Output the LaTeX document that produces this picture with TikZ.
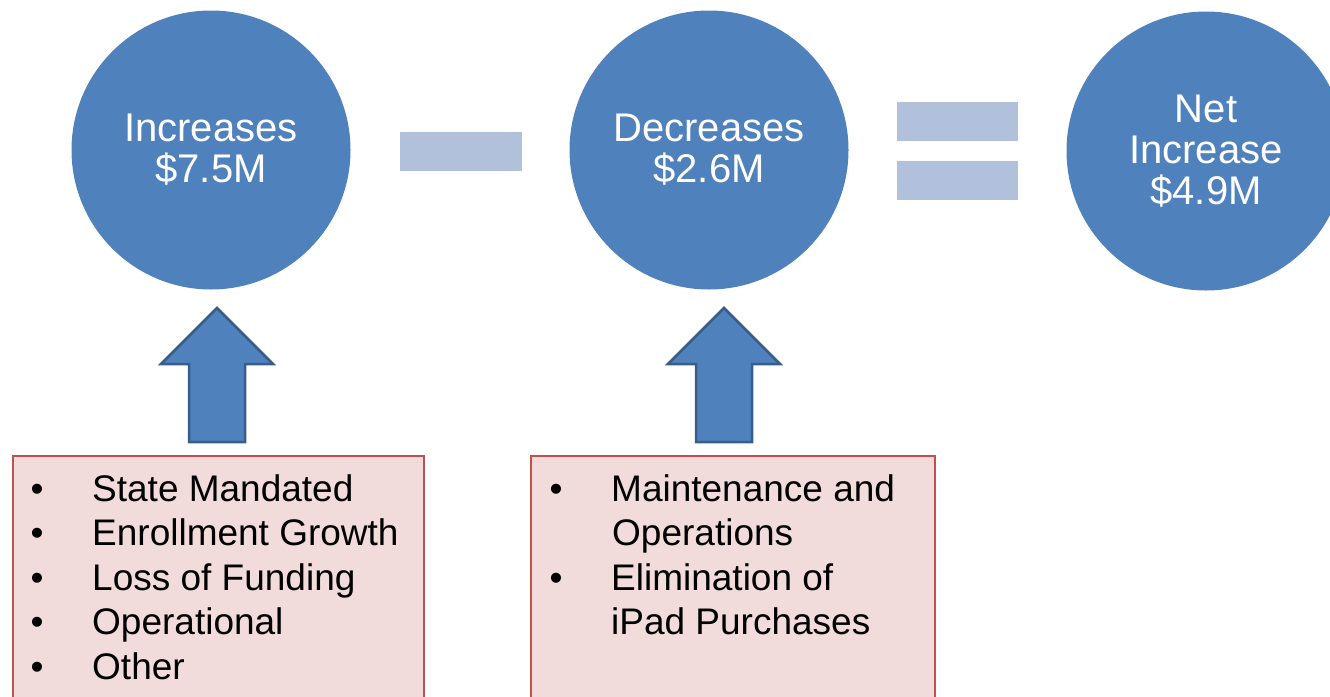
\documentclass[tikz,border=0pt]{standalone}
\usepackage{fontspec}
\setmainfont{Liberation Sans}
\usetikzlibrary{positioning}

\definecolor{bubbleblue}{HTML}{4F81BD}
\definecolor{arrowedge}{HTML}{385D8A}
\definecolor{barblue}{HTML}{B2C1DB}
\definecolor{boxfill}{HTML}{F2DCDB}
\definecolor{boxedge}{HTML}{C0504D}

\tikzset{
  bubble/.style={circle, fill=bubbleblue, minimum size=279pt, inner sep=0pt,
    text=white, align=center, font=\fontsize{40}{41}\selectfont},
  bar/.style={fill=barblue, minimum width=121pt, minimum height=39pt, inner sep=0pt},
  listbox/.style={draw=boxedge, line width=1.5pt, fill=boxfill, minimum height=260pt,
    anchor=north west, inner sep=0pt},
  itemtext/.style={font=\fontsize{37}{44.5}\selectfont, anchor=base west, inner sep=0pt},
  dot/.style={font=\fontsize{37}{44.5}\selectfont, anchor=base, inner sep=0pt},
  blockarrow/.style={fill=bubbleblue, draw=arrowedge, line width=2.5pt, line join=miter},
  uparrow/.pic={
    \draw[blockarrow] (-28,0) -- (-28,-78) -- (-56,-78) -- (0,-134)
      -- (56,-78) -- (28,-78) -- (28,0) -- cycle;
  }
}

\begin{document}
\begin{tikzpicture}[x=1pt,y=-1pt]
  \useasboundingbox (0,0) rectangle (1330,696);
  \clip (0,0) rectangle (1330,696);

  % totals
  \node[bubble] (inc) at (211,150) {Increases\\\$7.5M};
  \node[bubble] (dec) at (709,150) {Decreases\\\$2.6M};
  \node[bubble] (net) at (1206,151) {Net\\Increase\\\$4.9M};

  % minus and equals signs
  \node[bar, minimum width=122pt] (minus) at (461,151.5) {};
  \node[bar] (eqtop) at (957.5,121.5) {};
  \node[bar] (eqbot) at (957.5,180.5) {};

  % detail boxes
  \node[listbox, minimum width=411pt] (incbox) at (12,455) {};
  \node[listbox, minimum width=404pt] (decbox) at (530,455) {};

  % arrows from boxes up to circles
  \coordinate (incfoot) at (217,442);
  \coordinate (decfoot) at (724,442);
  \pic at (incfoot) {uparrow};
  \pic at (decfoot) {uparrow};

  % increase items
  \foreach \entry [count=\i] in {State Mandated, Enrollment Growth, Loss of Funding, Operational, Other} {
    \node[dot] (incdot\i) at (37,{501+44.5*(\i-1)}) {\textbullet};
    \node[itemtext] (incitem\i) at (92,{501+44.5*(\i-1)}) {\entry};
  }

  % decrease items
  \node[dot] (decdot1) at (556,501) {\textbullet};
  \node[itemtext] (decitem1) at (611,501) {Maintenance and};
  \node[itemtext] (decitem1b) at (612,545.5) {Operations};
  \node[dot] (decdot2) at (556,590) {\textbullet};
  \node[itemtext] (decitem2) at (611,590) {Elimination of};
  \node[itemtext] (decitem2b) at (611,634.5) {iPad Purchases};
\end{tikzpicture}
\end{document}
